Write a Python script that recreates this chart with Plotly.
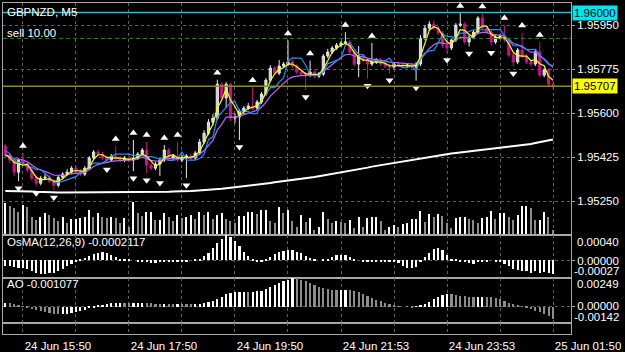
import plotly.graph_objects as go
import pandas as pd

# ---------------- data ----------------
symbol_title = "GBPNZD, M5"
time_tick_idx = [4, 16, 28, 40, 52, 64, 76, 88, 100, 112, 124]
time_tick_text = ["24 Jun 15:50", "", "24 Jun 17:50", "", "24 Jun 19:50", "",
                  "24 Jun 21:53", "", "24 Jun 23:53", "", "25 Jun 01:50"]
price_ticks = [1.95250, 1.95425, 1.95600, 1.95775, 1.95950]

opens = [1.95469, 1.95433, 1.95413, 1.95365, 1.95413, 1.95401, 1.95373, 1.95341, 1.95321, 1.95341,
         1.95345, 1.95329, 1.95313, 1.95345, 1.95357, 1.95365, 1.95381, 1.95369, 1.95357, 1.95381,
         1.95421, 1.95445, 1.95437, 1.95421, 1.95413, 1.95429, 1.95421, 1.95413, 1.95421, 1.95413,
         1.95421, 1.95437, 1.95453, 1.95393, 1.95381, 1.95397, 1.95413, 1.95453, 1.95421, 1.95429,
         1.95413, 1.95425, 1.95429, 1.95421, 1.95441, 1.95485, 1.95520, 1.95564, 1.95580, 1.95715,
         1.95660, 1.95715, 1.95580, 1.95584, 1.95608, 1.95620, 1.95628, 1.95620, 1.95644, 1.95676,
         1.95731, 1.95779, 1.95759, 1.95787, 1.95795, 1.95803, 1.95787, 1.95763, 1.95755, 1.95751,
         1.95763, 1.95747, 1.95755, 1.95827, 1.95843, 1.95859, 1.95871, 1.95879, 1.95883, 1.95843,
         1.95795, 1.95827, 1.95811, 1.95795, 1.95803, 1.95811, 1.95795, 1.95787, 1.95783, 1.95795,
         1.95791, 1.95787, 1.95791, 1.95783, 1.95795, 1.95898, 1.95938, 1.95954, 1.95938, 1.95918,
         1.95871, 1.95859, 1.95891, 1.95950, 1.95954, 1.95883, 1.95902, 1.95922, 1.95978, 1.95938,
         1.95922, 1.95883, 1.95902, 1.95906, 1.95891, 1.95831, 1.95803, 1.95851, 1.95827, 1.95803,
         1.95795, 1.95843, 1.95751, 1.95771, 1.95715]

highs = [1.95477, 1.95441, 1.95421, 1.95421, 1.95441, 1.95409, 1.95381, 1.95349, 1.95349, 1.95357,
         1.95353, 1.95337, 1.95353, 1.95365, 1.95377, 1.95389, 1.95389, 1.95377, 1.95389, 1.95429,
         1.95453, 1.95453, 1.95445, 1.95429, 1.95437, 1.95469, 1.95429, 1.95429, 1.95429, 1.95493,
         1.95445, 1.95461, 1.95485, 1.95401, 1.95405, 1.95421, 1.95473, 1.95461, 1.95437, 1.95485,
         1.95433, 1.95437, 1.95437, 1.95449, 1.95497, 1.95532, 1.95576, 1.95596, 1.95733, 1.95723,
         1.95723, 1.95719, 1.95600, 1.95616, 1.95628, 1.95640, 1.95703, 1.95652, 1.95684, 1.95739,
         1.95791, 1.95787, 1.95811, 1.95803, 1.95889, 1.95811, 1.95795, 1.95771, 1.95763, 1.95809,
         1.95771, 1.95763, 1.95835, 1.95855, 1.95867, 1.95879, 1.95887, 1.95922, 1.95891, 1.95851,
         1.95867, 1.95835, 1.95819, 1.95879, 1.95819, 1.95819, 1.95803, 1.95795, 1.95803, 1.95803,
         1.95799, 1.95799, 1.95799, 1.95803, 1.95910, 1.95950, 1.95966, 1.95970, 1.95946, 1.95926,
         1.95879, 1.95899, 1.95958, 1.95998, 1.95962, 1.95910, 1.95930, 1.95986, 1.95996, 1.95946,
         1.95930, 1.95910, 1.95914, 1.95950, 1.95899, 1.95839, 1.95859, 1.95920, 1.95835, 1.95811,
         1.95851, 1.95883, 1.95779, 1.95779, 1.95723]

lows = [1.95425, 1.95401, 1.95349, 1.95329, 1.95393, 1.95365, 1.95333, 1.95309, 1.95313, 1.95333,
        1.95321, 1.95292, 1.95305, 1.95337, 1.95349, 1.95357, 1.95361, 1.95349, 1.95349, 1.95373,
        1.95413, 1.95429, 1.95413, 1.95404, 1.95409, 1.95413, 1.95405, 1.95405, 1.95405, 1.95369,
        1.95413, 1.95429, 1.95361, 1.95373, 1.95373, 1.95350, 1.95405, 1.95413, 1.95413, 1.95405,
        1.95405, 1.95341, 1.95413, 1.95413, 1.95433, 1.95477, 1.95512, 1.95552, 1.95572, 1.95648,
        1.95620, 1.95568, 1.95560, 1.95493, 1.95596, 1.95612, 1.95612, 1.95612, 1.95636, 1.95668,
        1.95723, 1.95751, 1.95751, 1.95779, 1.95787, 1.95779, 1.95755, 1.95747, 1.95692, 1.95743,
        1.95739, 1.95739, 1.95747, 1.95819, 1.95835, 1.95851, 1.95863, 1.95871, 1.95835, 1.95787,
        1.95743, 1.95803, 1.95737, 1.95787, 1.95795, 1.95787, 1.95779, 1.95759, 1.95775, 1.95783,
        1.95779, 1.95779, 1.95775, 1.95729, 1.95787, 1.95890, 1.95930, 1.95930, 1.95910, 1.95859,
        1.95839, 1.95851, 1.95883, 1.95942, 1.95875, 1.95865, 1.95894, 1.95914, 1.95930, 1.95914,
        1.95868, 1.95875, 1.95894, 1.95883, 1.95823, 1.95786, 1.95795, 1.95819, 1.95795, 1.95787,
        1.95787, 1.95743, 1.95743, 1.95703, 1.95695]

closes = [1.95433, 1.95413, 1.95365, 1.95413, 1.95401, 1.95373, 1.95341, 1.95321, 1.95341, 1.95345,
          1.95329, 1.95313, 1.95345, 1.95357, 1.95365, 1.95381, 1.95369, 1.95357, 1.95381, 1.95421,
          1.95445, 1.95437, 1.95421, 1.95413, 1.95429, 1.95421, 1.95413, 1.95421, 1.95413, 1.95421,
          1.95437, 1.95453, 1.95393, 1.95381, 1.95397, 1.95413, 1.95453, 1.95421, 1.95429, 1.95413,
          1.95425, 1.95429, 1.95421, 1.95441, 1.95485, 1.95520, 1.95564, 1.95580, 1.95715, 1.95660,
          1.95715, 1.95580, 1.95584, 1.95608, 1.95620, 1.95628, 1.95620, 1.95644, 1.95676, 1.95731,
          1.95779, 1.95759, 1.95787, 1.95795, 1.95803, 1.95787, 1.95763, 1.95755, 1.95751, 1.95763,
          1.95747, 1.95755, 1.95827, 1.95843, 1.95859, 1.95871, 1.95879, 1.95883, 1.95843, 1.95795,
          1.95827, 1.95811, 1.95795, 1.95803, 1.95811, 1.95795, 1.95787, 1.95783, 1.95795, 1.95791,
          1.95787, 1.95791, 1.95783, 1.95795, 1.95898, 1.95938, 1.95954, 1.95938, 1.95918, 1.95871,
          1.95859, 1.95891, 1.95950, 1.95954, 1.95883, 1.95902, 1.95922, 1.95978, 1.95938, 1.95922,
          1.95883, 1.95902, 1.95906, 1.95891, 1.95831, 1.95803, 1.95851, 1.95827, 1.95803, 1.95795,
          1.95843, 1.95751, 1.95771, 1.95715, 1.95707]

long_ma = [1.95290, 1.95290, 1.95290, 1.95289, 1.95289, 1.95288, 1.95288, 1.95287, 1.95286, 1.95285,
           1.95284, 1.95284, 1.95284, 1.95284, 1.95284, 1.95284, 1.95284, 1.95284, 1.95284, 1.95284,
           1.95284, 1.95284, 1.95284, 1.95284, 1.95284, 1.95284, 1.95284, 1.95284, 1.95284, 1.95284,
           1.95284, 1.95284, 1.95284, 1.95284, 1.95285, 1.95286, 1.95286, 1.95287, 1.95288, 1.95288,
           1.95289, 1.95290, 1.95290, 1.95291, 1.95292, 1.95293, 1.95295, 1.95296, 1.95298, 1.95299,
           1.95301, 1.95303, 1.95305, 1.95307, 1.95309, 1.95310, 1.95312, 1.95315, 1.95317, 1.95320,
           1.95322, 1.95325, 1.95327, 1.95330, 1.95332, 1.95334, 1.95336, 1.95338, 1.95341, 1.95344,
           1.95346, 1.95349, 1.95352, 1.95355, 1.95358, 1.95360, 1.95363, 1.95367, 1.95370, 1.95373,
           1.95377, 1.95380, 1.95383, 1.95387, 1.95390, 1.95393, 1.95397, 1.95400, 1.95403, 1.95406,
           1.95409, 1.95412, 1.95415, 1.95417, 1.95420, 1.95423, 1.95426, 1.95428, 1.95431, 1.95434,
           1.95437, 1.95439, 1.95441, 1.95443, 1.95445, 1.95447, 1.95449, 1.95451, 1.95453, 1.95455,
           1.95457, 1.95459, 1.95461, 1.95463, 1.95465, 1.95467, 1.95469, 1.95471, 1.95474, 1.95477,
           1.95481, 1.95485, 1.95488, 1.95492, 1.95495]

volumes = [320, 290, 270, 230, 300, 280, 180, 150, 180, 220, 200, 170, 140, 180, 120, 160, 160, 170, 180, 250,
           180, 220, 180, 170, 180, 170, 120, 170, 80, 330, 220, 190, 230,
           230, 150, 150, 220, 180, 140, 200, 170, 180, 200, 160, 230, 200, 230, 160, 200, 220, 160,
           140, 120, 190, 190, 230, 230, 210, 250, 250, 140, 120, 280, 220, 250, 140, 80,
           200, 130, 170, 50, 80, 230, 160, 120, 140, 130, 120, 150, 70, 180, 80, 170, 180, 180,
           140, 50, 80, 100, 80, 110, 120, 160, 160, 240, 130, 210, 180, 210, 190, 120,
           70, 170, 180, 180, 160, 150, 120, 170, 180, 240, 160, 220, 220, 180, 150, 200, 290, 290,
           270, 150, 150, 230, 180, 50]

osma = [-0.00008, -0.00009, -0.00010, -0.00011, -0.00012, -0.00014, -0.00017, -0.00019, -0.00021, -0.00021,
        -0.00020, -0.00019, -0.00017, -0.00014, -0.00009, -0.00005, -0.00002, 0.00002, 0.00004, 0.00007,
        0.00010, 0.00012, 0.00013, 0.00012, 0.00009, 0.00006, 0.00003, 0.00002, 0.00001, 0.00000,
        -0.00001, -0.00002, -0.00003, -0.00004, -0.00004, -0.00003, -0.00002, -0.00002, -0.00002, -0.00002,
        -0.00001, -0.00001, 0.00000, 0.00001, 0.00003, 0.00007, 0.00012, 0.00019, 0.00027, 0.00034,
        0.00040, 0.00037, 0.00030, 0.00022, 0.00014, 0.00007, 0.00002, -0.00002, -0.00002, 0.00002,
        0.00006, 0.00010, 0.00013, 0.00015, 0.00017, 0.00016, 0.00014, 0.00011, 0.00007, 0.00004,
        0.00002, 0.00000, 0.00001, 0.00003, 0.00006, 0.00008, 0.00009, 0.00008, 0.00006, 0.00002,
        0.00000, -0.00001, -0.00002, -0.00003, -0.00003, -0.00003, -0.00002, -0.00002, -0.00003, -0.00004,
        -0.00008, -0.00011, -0.00012, -0.00010, -0.00002, 0.00006, 0.00012, 0.00018, 0.00020, 0.00017,
        0.00009, 0.00002, 0.00001, -0.00001, -0.00002, -0.00004, -0.00005, -0.00003, -0.00002, -0.00001,
        0.00000, -0.00002, -0.00003, -0.00005, -0.00008, -0.00013, -0.00015, -0.00017, -0.00016, -0.00019,
        -0.00017, -0.00020, -0.00018, -0.00020, -0.0002117]

ao = [0.00030, 0.00028, 0.00022, 0.00010, 0.00002, -0.00010, -0.00022, -0.00032, -0.00042, -0.00050,
      -0.00058, -0.00064, -0.00066, -0.00066, -0.00062, -0.00055, -0.00046, -0.00036, -0.00025, -0.00014,
      -0.00004, 0.00006, 0.00014, 0.00022, 0.00028, 0.00032, 0.00035, 0.00033, 0.00030, 0.00030,
      0.00031, 0.00033, 0.00032, 0.00029, 0.00026, 0.00025, 0.00027, 0.00026, 0.00025, 0.00027,
      0.00026, 0.00024, 0.00022, 0.00023, 0.00026, 0.00032, 0.00040, 0.00050, 0.00068, 0.00088,
      0.00108, 0.00120, 0.00128, 0.00130, 0.00130, 0.00129, 0.00130, 0.00134, 0.00140, 0.00152,
      0.00168, 0.00184, 0.00202, 0.00220, 0.00236, 0.00249, 0.00245, 0.00236, 0.00222, 0.00206,
      0.00188, 0.00170, 0.00158, 0.00150, 0.00146, 0.00145, 0.00146, 0.00147, 0.00144, 0.00136,
      0.00124, 0.00110, 0.00094, 0.00078, 0.00062, 0.00046, 0.00032, 0.00020, 0.00010, 0.00004,
      0.00000, -0.00003, -0.00004, -0.00002, 0.00006, 0.00022, 0.00042, 0.00066, 0.00088, 0.00104,
      0.00112, 0.00110, 0.00102, 0.00094, 0.00090, 0.00088, 0.00086, 0.00086, 0.00088, 0.00086,
      0.00082, 0.00076, 0.00066, 0.00052, 0.00036, 0.00020, 0.00008, -0.00002, -0.00012, -0.00022,
      -0.00034, -0.00050, -0.00066, -0.00084, -0.001077]

up_fractals = [4, 25, 29, 32, 36, 39, 48, 56, 64, 69, 77, 83, 103, 108, 113, 117, 121]
down_fractals = [3, 7, 11, 23, 29, 32, 35, 41, 53, 68, 82, 87, 93, 100, 105, 110, 115]

resistance_price = 1.96000
bid_price = 1.95707
sell_price = 1.95897
sell_text = "sell 10.00"
osma_text = "OsMA(12,26,9) -0.0002117"
ao_text = "AO -0.001077"
osma_range = [-0.00027, 0.00040]
ao_range = [-0.00142, 0.00249]

# ---------------- derived indicators ----------------
n = len(closes)
idx = list(range(n))
sc, sh, sl = pd.Series(closes), pd.Series(highs), pd.Series(lows)
ma_fast = sc.rolling(3, min_periods=1).mean()
ma_mid = (sh.rolling(5, min_periods=1).max() + sl.rolling(5, min_periods=1).min()) / 2
ma_slow = sc.ewm(span=10, adjust=False).mean()

vol_colors = ["#ffffff" if i == 0 or volumes[i] >= volumes[i - 1] else "#8c8c8c" for i in idx]
ao_colors = ["#ffffff" if i == 0 or ao[i] >= ao[i - 1] else "#8c8c8c" for i in idx]

# ---------------- layout geometry ----------------
W, H = 625, 352
ML, MR, MT, MB = 3, 54, 3, 18
PT, PB = MT, H - MB
PH = PB - PT


def py(p):
    return (PB - p) / PH


dom_main = [py(235), 1.0]
dom_osma = [py(277.7), py(235)]
dom_ao = [py(322.7), py(277.7)]
dom_extra = [0.0, py(322.7)]

FONT = "Liberation Sans"
FS = 11.5
GRID = "#5e5e5e"
FRAME = "#a8a8a8"
xr = [-0.52, 128.07]
main_range = [1.95115, 1.96038]
frac_off = 0.00028

fig = go.Figure()

fig.add_trace(go.Bar(x=idx, y=volumes, xaxis="x", yaxis="y5", marker_color=vol_colors,
                     marker_line_width=0, width=0.3, hoverinfo="skip"))
fig.add_trace(go.Scatter(x=idx, y=long_ma, mode="lines", line=dict(color="white", width=2),
                         xaxis="x", yaxis="y", hoverinfo="skip"))
fig.add_trace(go.Candlestick(x=idx, open=opens, high=highs, low=lows, close=closes,
                             xaxis="x", yaxis="y", whiskerwidth=0,
                             increasing=dict(line=dict(color="#e8e8e8", width=1), fillcolor="#cfcfcf"),
                             decreasing=dict(line=dict(color="#c71585", width=1), fillcolor="#c71585"),
                             hoverinfo="skip"))
for series, col in [(ma_slow, "#c060ff"), (ma_mid, "#1e90ff"), (ma_fast, "#ffff00")]:
    fig.add_trace(go.Scatter(x=idx, y=series, mode="lines", line=dict(color=col, width=1.2),
                             xaxis="x", yaxis="y", hoverinfo="skip"))
fig.add_trace(go.Scatter(x=up_fractals, y=[highs[i] + frac_off for i in up_fractals], mode="markers",
                         marker=dict(symbol="triangle-up", size=7, color="white", line_width=0),
                         xaxis="x", yaxis="y", hoverinfo="skip"))
fig.add_trace(go.Scatter(x=down_fractals, y=[lows[i] - frac_off for i in down_fractals], mode="markers",
                         marker=dict(symbol="triangle-down", size=7, color="white", line_width=0),
                         xaxis="x", yaxis="y", hoverinfo="skip"))
fig.add_trace(go.Bar(x=idx, y=osma, xaxis="x2", yaxis="y2", marker_color="white",
                     marker_line_width=0, width=0.5, hoverinfo="skip"))
fig.add_trace(go.Bar(x=idx, y=ao, xaxis="x3", yaxis="y3", marker_color=ao_colors,
                     marker_line_width=0, width=0.5, hoverinfo="skip"))
# invisible carrier so the bottom time axis is drawn with data
fig.add_trace(go.Scatter(x=[idx[0], idx[-1]], y=[0.5, 0.5], mode="lines", line=dict(width=0),
                         xaxis="x4", yaxis="y4", hoverinfo="skip", showlegend=False))

xbase = dict(range=xr, showgrid=True, gridcolor=GRID, griddash="3px,3px", gridwidth=1,
             tickmode="array", tickvals=time_tick_idx, zeroline=False, showline=True, mirror=True,
             linecolor=FRAME, linewidth=1, fixedrange=True, automargin=False)
ybase = dict(side="right", showline=True, mirror=True, linecolor=FRAME, linewidth=1,
             zeroline=False, gridcolor=GRID, griddash="3px,3px", ticks="outside", ticklen=3,
             tickcolor=FRAME, tickfont=dict(family=FONT, size=FS, color="white"), fixedrange=True,
             automargin=False)

fig.update_layout(
    width=W, height=H, autosize=False,
    margin=dict(l=ML, r=MR, t=MT, b=MB, pad=0, autoexpand=False),
    paper_bgcolor="black", plot_bgcolor="black", showlegend=False,
    font=dict(family=FONT, size=FS, color="white"),
    bargap=0,
    xaxis=dict(xbase, anchor="y", showticklabels=False, rangeslider=dict(visible=False)),
    xaxis2=dict(xbase, anchor="y2", showticklabels=False),
    xaxis3=dict(xbase, anchor="y3", showticklabels=False),
    xaxis4=dict(xbase, anchor="y4", showticklabels=True, ticktext=time_tick_text,
                ticks="", ticklabelshift=35, ticklabelstandoff=1,
                tickfont=dict(family=FONT, size=FS, color="white")),
    yaxis=dict(ybase, domain=dom_main, anchor="x", range=main_range, tickmode="array",
               tickvals=price_ticks, ticktext=[f"{v:.5f}" for v in price_ticks], showgrid=True),
    yaxis5=dict(overlaying="y", range=[0, 2320], visible=False, fixedrange=True),
    yaxis2=dict(ybase, domain=dom_osma, anchor="x2", range=osma_range, tickmode="array",
                tickvals=[0], ticktext=["0.00000"], showgrid=True),
    yaxis3=dict(ybase, domain=dom_ao, anchor="x3", range=ao_range, tickmode="array",
                tickvals=[0], ticktext=["0.00000"], showgrid=True),
    yaxis4=dict(ybase, domain=dom_extra, anchor="x4", range=[0, 1], tickvals=[], showgrid=False,
                ticks=""),
)

fig.add_shape(type="line", xref="paper", x0=0, x1=1, yref="y", y0=resistance_price, y1=resistance_price,
              line=dict(color="#19c3d6", width=1.5))
fig.add_shape(type="line", xref="paper", x0=0, x1=1, yref="y", y0=bid_price, y1=bid_price,
              line=dict(color="#8f8f00", width=1.5))
fig.add_shape(type="line", xref="paper", x0=0, x1=1, yref="y", y0=sell_price, y1=sell_price,
              line=dict(color="#00a000", width=1, dash="4px,3px"))

ann = []
lx = 2 / (W - ML - MR)
for txt, pyy in [(symbol_title, 11.7), (sell_text, 33), (osma_text, 241.7), (ao_text, 284.3)]:
    ann.append(dict(text=txt, x=lx, y=py(pyy), xref="paper", yref="paper", xanchor="left",
                    yanchor="middle", showarrow=False, font=dict(family=FONT, size=FS, color="white")))
ann.append(dict(text=f"{resistance_price:.5f}", x=1, xref="paper", y=resistance_price, yref="y",
                xanchor="left", yanchor="middle", xshift=1, showarrow=False, bgcolor="#00e5f0",
                borderpad=1, font=dict(family=FONT, size=FS, color="black")))
ann.append(dict(text=f"{bid_price:.5f}", x=1, xref="paper", y=bid_price, yref="y",
                xanchor="left", yanchor="middle", xshift=1, showarrow=False, bgcolor="#ffff00",
                borderpad=1, font=dict(family=FONT, size=FS, color="black")))
for txt, pyy, shift in [(f"{osma_range[1]:.5f}", 241.7, 4), (f"{osma_range[0]:.5f}", 271, 1),
                        (f"{ao_range[1]:.5f}", 284.3, 4), (f"{ao_range[0]:.5f}", 317.3, 1)]:
    ann.append(dict(text=txt, x=1, xref="paper", y=py(pyy), yref="paper", xanchor="left",
                    yanchor="middle", xshift=shift, showarrow=False,
                    font=dict(family=FONT, size=FS, color="white")))
fig.update_layout(annotations=ann)

fig.write_html("out.html")
